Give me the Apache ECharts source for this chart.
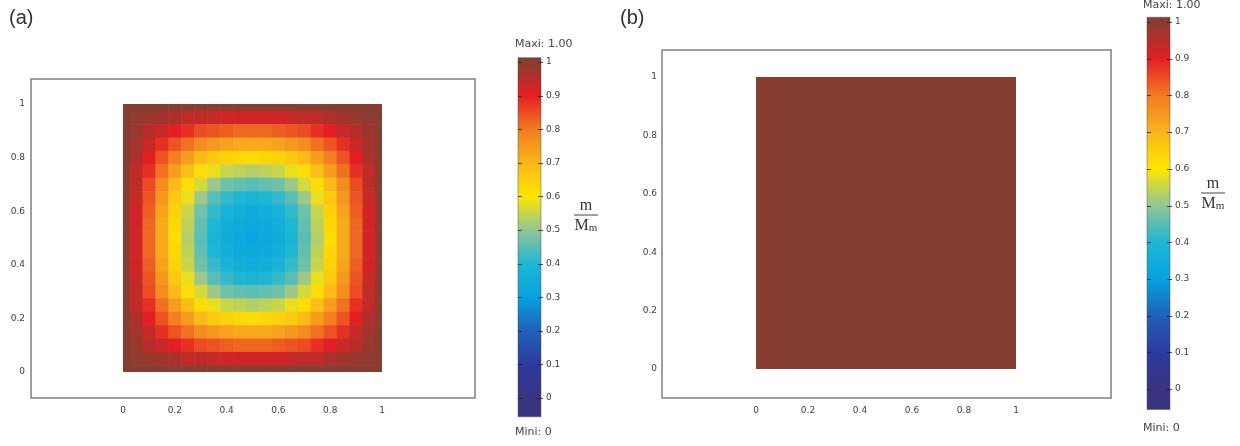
<!DOCTYPE html>
<html>
<head>
<meta charset="utf-8">
<script src="https://cdn.jsdelivr.net/npm/echarts@6/dist/echarts.min.js"></script>
<style>
  html, body { margin: 0; padding: 0; background: #ffffff; }
  #chart { width: 1240px; height: 446px; }
</style>
</head>
<body>
<div id="chart"></div>
<script>
// Normalised moisture content m/Mm over the unit square.
// Nodes every 0.05 in x and y; rows run from y = 1 (top) down to y = 0.
const fieldA = [
  [1.00,1.00,1.00,1.00,1.00,1.00,1.00,1.00,1.00,1.00,1.00,1.00,1.00,1.00,1.00,1.00,1.00,1.00,1.00,1.00,1.00],
  [1.00,0.99,0.98,0.97,0.96,0.94,0.94,0.93,0.92,0.92,0.92,0.92,0.92,0.93,0.94,0.94,0.96,0.97,0.98,0.99,1.00],
  [1.00,0.98,0.95,0.93,0.90,0.88,0.85,0.84,0.83,0.82,0.82,0.82,0.83,0.84,0.85,0.88,0.90,0.93,0.95,0.98,1.00],
  [1.00,0.97,0.93,0.88,0.84,0.81,0.77,0.75,0.73,0.72,0.72,0.72,0.73,0.75,0.77,0.81,0.84,0.88,0.93,0.97,1.00],
  [1.00,0.96,0.90,0.84,0.79,0.74,0.69,0.66,0.64,0.63,0.62,0.63,0.64,0.66,0.69,0.74,0.79,0.84,0.90,0.96,1.00],
  [1.00,0.94,0.88,0.81,0.74,0.68,0.62,0.58,0.55,0.54,0.53,0.54,0.55,0.58,0.62,0.68,0.74,0.81,0.88,0.94,1.00],
  [1.00,0.94,0.85,0.77,0.69,0.62,0.56,0.51,0.47,0.46,0.45,0.46,0.47,0.51,0.56,0.62,0.69,0.77,0.85,0.94,1.00],
  [1.00,0.93,0.84,0.75,0.66,0.58,0.51,0.45,0.42,0.40,0.39,0.40,0.42,0.45,0.51,0.58,0.66,0.75,0.84,0.93,1.00],
  [1.00,0.92,0.83,0.73,0.64,0.55,0.47,0.42,0.38,0.36,0.35,0.36,0.38,0.42,0.47,0.55,0.64,0.73,0.83,0.92,1.00],
  [1.00,0.92,0.82,0.72,0.63,0.54,0.46,0.40,0.36,0.34,0.33,0.34,0.36,0.40,0.46,0.54,0.63,0.72,0.82,0.92,1.00],
  [1.00,0.92,0.82,0.72,0.62,0.53,0.45,0.39,0.35,0.33,0.32,0.33,0.35,0.39,0.45,0.53,0.62,0.72,0.82,0.92,1.00],
  [1.00,0.92,0.82,0.72,0.63,0.54,0.46,0.40,0.36,0.34,0.33,0.34,0.36,0.40,0.46,0.54,0.63,0.72,0.82,0.92,1.00],
  [1.00,0.92,0.83,0.73,0.64,0.55,0.47,0.42,0.38,0.36,0.35,0.36,0.38,0.42,0.47,0.55,0.64,0.73,0.83,0.92,1.00],
  [1.00,0.93,0.84,0.75,0.66,0.58,0.51,0.45,0.42,0.40,0.39,0.40,0.42,0.45,0.51,0.58,0.66,0.75,0.84,0.93,1.00],
  [1.00,0.94,0.85,0.77,0.69,0.62,0.56,0.51,0.47,0.46,0.45,0.46,0.47,0.51,0.56,0.62,0.69,0.77,0.85,0.94,1.00],
  [1.00,0.94,0.88,0.81,0.74,0.68,0.62,0.58,0.55,0.54,0.53,0.54,0.55,0.58,0.62,0.68,0.74,0.81,0.88,0.94,1.00],
  [1.00,0.96,0.90,0.84,0.79,0.74,0.69,0.66,0.64,0.63,0.62,0.63,0.64,0.66,0.69,0.74,0.79,0.84,0.90,0.96,1.00],
  [1.00,0.97,0.93,0.88,0.84,0.81,0.77,0.75,0.73,0.72,0.72,0.72,0.73,0.75,0.77,0.81,0.84,0.88,0.93,0.97,1.00],
  [1.00,0.98,0.95,0.93,0.90,0.88,0.85,0.84,0.83,0.82,0.82,0.82,0.83,0.84,0.85,0.88,0.90,0.93,0.95,0.98,1.00],
  [1.00,0.99,0.98,0.97,0.96,0.94,0.94,0.93,0.92,0.92,0.92,0.92,0.92,0.93,0.94,0.94,0.96,0.97,0.98,0.99,1.00],
  [1.00,1.00,1.00,1.00,1.00,1.00,1.00,1.00,1.00,1.00,1.00,1.00,1.00,1.00,1.00,1.00,1.00,1.00,1.00,1.00,1.00]
];

// Saturated state: the whole square sits at m/Mm = 1 (corner nodes, step 1).
const fieldB = [
  [1.00, 1.00],
  [1.00, 1.00]
];

// Axis ticks of the square and of the colour scale
const domainTicks = [0, 0.2, 0.4, 0.6, 0.8, 1];
const scaleTicks = [0, 0.1, 0.2, 0.3, 0.4, 0.5, 0.6, 0.7, 0.8, 0.9, 1];

// Colour scale, one colour per scale tick (0 … 1)
const scaleColors = [
  '#3a3480', '#2d3a9e', '#2160b8', '#05a2e0', '#1fb6d4', '#93c596',
  '#ffe600', '#f9b51b', '#f27a22', '#e31e24', '#863e31'
];

// Colour bar runs a little past both ends of the scale
const scaleRange = [-0.056, 1.013];

const scaleText = { max: 'Maxi: 1.00', min: 'Mini: 0' };
const panelTags = ['(a)', '(b)'];

function toCells(matrix) {
  const n = matrix.length;
  const step = 1 / (n - 1);
  const out = [];
  matrix.forEach((row, r) => {
    row.forEach((v, c) => out.push([c * step, 1 - r * step, v, step]));
  });
  return out;
}

// One shaded cell around each node, trimmed to the square
function renderCell(params, api) {
  const x = api.value(0), y = api.value(1), h = api.value(3) / 2;
  const tl = api.coord([Math.max(0, x - h), Math.min(1, y + h)]);
  const br = api.coord([Math.min(1, x + h), Math.max(0, y - h)]);
  return {
    type: 'rect',
    shape: { x: tl[0], y: tl[1], width: br[0] - tl[0] + 0.6, height: br[1] - tl[1] + 0.6 },
    style: { fill: api.visual('color') }
  };
}

// Colour bar with its short tick marks on both edges
function renderScale(params, api) {
  const lo = api.value(0), hi = api.value(1);
  const tl = api.coord([0, hi]);
  const br = api.coord([1, lo]);
  const n = scaleColors.length;
  const first = scaleTicks[0], last = scaleTicks[scaleTicks.length - 1];
  const stops = [{ offset: 0, color: scaleColors[n - 1] }];
  for (let k = n - 1; k >= 0; k--) {
    const v = first + k * (last - first) / (n - 1);
    stops.push({ offset: (hi - v) / (hi - lo), color: scaleColors[k] });
  }
  stops.push({ offset: 1, color: scaleColors[0] });
  const children = [{
    type: 'rect',
    shape: { x: tl[0], y: tl[1], width: br[0] - tl[0], height: br[1] - tl[1] },
    style: {
      fill: new echarts.graphic.LinearGradient(0, 0, 0, 1, stops),
      stroke: 'rgba(70,70,70,0.45)',
      lineWidth: 1
    }
  }];
  scaleTicks.forEach(t => {
    const p = api.coord([0, t]);
    const yy = Math.round(p[1]) + 0.5;
    children.push({ type: 'line', shape: { x1: tl[0], y1: yy, x2: tl[0] + 4, y2: yy },
      style: { stroke: 'rgba(35,35,35,0.8)', lineWidth: 1 } });
    children.push({ type: 'line', shape: { x1: br[0] - 3, y1: yy, x2: br[0] + 2, y2: yy },
      style: { stroke: 'rgba(35,35,35,0.8)', lineWidth: 1 } });
  });
  return { type: 'group', children: children };
}

const labelFont = { fontFamily: 'DejaVu Sans', fontSize: 9, color: '#3e3e3e' };
const hiddenAxis = { show: false, min: 0, max: 1 };

function domainAxis(grid, margin) {
  return {
    type: 'value', gridIndex: grid,
    min: domainTicks[0], max: domainTicks[domainTicks.length - 1],
    interval: domainTicks[1] - domainTicks[0],
    axisLine: { show: false }, axisTick: { show: false }, splitLine: { show: false },
    axisLabel: Object.assign({ margin: margin }, labelFont)
  };
}
function scaleAxis(grid) {
  return {
    type: 'value', gridIndex: grid, position: 'right',
    min: scaleTicks[0], max: scaleTicks[scaleTicks.length - 1],
    interval: scaleTicks[1] - scaleTicks[0],
    axisLine: { show: false }, splitLine: { show: false }, axisTick: { show: false },
    axisLabel: Object.assign({ margin: 5 }, labelFont)
  };
}

const frameStyle = { show: true, borderColor: '#808080', borderWidth: 1.5, backgroundColor: 'transparent' };

const fracFont = 'Liberation Serif';
function fraction(cx, cy) {
  return {
    type: 'group',
    children: [
      { type: 'text', x: cx, y: cy - 9, style: { text: 'm', font: '16px ' + fracFont, fill: '#333', align: 'center', verticalAlign: 'middle' } },
      { type: 'line', shape: { x1: cx - 12, y1: cy, x2: cx + 12, y2: cy }, style: { stroke: '#444', lineWidth: 1 } },
      { type: 'text', x: cx, y: cy + 11, style: {
          text: '{a|M}{b|m}', align: 'center', verticalAlign: 'middle',
          rich: { a: { font: '16px ' + fracFont, fill: '#333' }, b: { font: '11px ' + fracFont, fill: '#333', padding: [4, 0, 0, 0] } }
        } }
    ]
  };
}
function tagText(x, y, text, size) {
  return { type: 'text', x: x, y: y, style: { text: text, font: size + 'px "Liberation Sans"', fill: '#333' } };
}
function scaleLabel(x, y, text) {
  return { type: 'text', x: x, y: y, style: { text: text, font: '11px "DejaVu Sans"', fill: '#444', verticalAlign: 'middle' } };
}

const chart = echarts.init(document.getElementById('chart'), null, { renderer: 'canvas' });

chart.setOption({
  animation: false,
  backgroundColor: '#ffffff',
  grid: [
    Object.assign({ left: 31, top: 79, width: 444, height: 319 }, frameStyle),   // 0 frame (a)
    { left: 123, top: 104, width: 259, height: 268 },                           // 1 square (a)
    { left: 518, top: 62, width: 23, height: 336 },                             // 2 scale (a)
    Object.assign({ left: 662, top: 50, width: 449, height: 348 }, frameStyle),  // 3 frame (b)
    { left: 756, top: 77, width: 260, height: 292 },                            // 4 square (b)
    { left: 1147, top: 22, width: 23, height: 367 }                             // 5 scale (b)
  ],
  xAxis: [
    Object.assign({ gridIndex: 0 }, hiddenAxis),
    domainAxis(1, 34),
    Object.assign({ gridIndex: 2 }, hiddenAxis),
    Object.assign({ gridIndex: 3 }, hiddenAxis),
    domainAxis(4, 37),
    Object.assign({ gridIndex: 5 }, hiddenAxis)
  ],
  yAxis: [
    Object.assign({ gridIndex: 0 }, hiddenAxis),
    domainAxis(1, 98),
    scaleAxis(2),
    Object.assign({ gridIndex: 3 }, hiddenAxis),
    domainAxis(4, 99),
    scaleAxis(5)
  ],
  visualMap: {
    show: false,
    type: 'continuous',
    seriesIndex: [0, 1],
    dimension: 2,
    min: scaleTicks[0],
    max: scaleTicks[scaleTicks.length - 1],
    inRange: { color: scaleColors }
  },
  series: [
    { type: 'custom', name: 'm/Mm (a)', xAxisIndex: 1, yAxisIndex: 1, clip: true,
      renderItem: renderCell, data: toCells(fieldA) },
    { type: 'custom', name: 'm/Mm (b)', xAxisIndex: 4, yAxisIndex: 4, clip: true,
      renderItem: renderCell, data: toCells(fieldB) },
    { type: 'custom', name: 'scale (a)', xAxisIndex: 2, yAxisIndex: 2, clip: false,
      renderItem: renderScale, data: [[scaleRange[0], scaleRange[1]]] },
    { type: 'custom', name: 'scale (b)', xAxisIndex: 5, yAxisIndex: 5, clip: false,
      renderItem: renderScale, data: [[scaleRange[0], scaleRange[1]]] }
  ],
  graphic: [
    tagText(9, 8, panelTags[0], 20),
    tagText(620, 8, panelTags[1], 20),
    scaleLabel(515, 44, scaleText.max),
    scaleLabel(515, 432, scaleText.min),
    scaleLabel(1143, 5, scaleText.max),
    scaleLabel(1143, 428, scaleText.min),
    fraction(586, 215),
    fraction(1213, 193)
  ]
});
</script>
</body>
</html>
